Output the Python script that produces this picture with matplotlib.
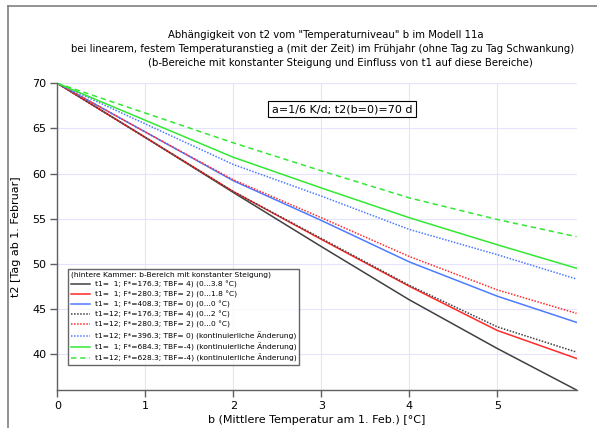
import matplotlib.pyplot as plt

# b (Mittlere Temperatur am 1. Feb.) [°C]
b_vals = [0, 1, 2, 3, 4, 5, 5.9]

# t2 [Tag ab 1. Februar]
t2_k_solid = [70, 64.0, 57.9, 51.9, 46.0, 40.6, 36.0]
t2_r_solid = [70, 64.0, 58.0, 52.7, 47.5, 42.6, 39.5]
t2_b_solid = [70, 64.6, 59.2, 54.8, 50.2, 46.4, 43.5]
t2_k_dot = [70, 64.0, 58.0, 52.8, 47.6, 43.0, 40.2]
t2_r_dot = [70, 64.6, 59.3, 55.1, 50.8, 47.1, 44.5]
t2_b_dot = [70, 65.5, 61.0, 57.5, 53.8, 51.0, 48.3]
t2_g_solid = [70, 65.9, 61.8, 58.4, 55.1, 52.1, 49.5]
t2_g_dash = [70, 66.7, 63.4, 60.3, 57.3, 54.9, 53.0]

labels = [
    "t1=  1; F*=176.3; TBF= 4) (0...3.8 °C)",
    "t1=  1; F*=280.3; TBF= 2) (0...1.8 °C)",
    "t1=  1; F*=408.3; TBF= 0) (0...0 °C)",
    "t1=12; F*=176.3; TBF= 4) (0...2 °C)",
    "t1=12; F*=280.3; TBF= 2) (0...0 °C)",
    "t1=12; F*=396.3; TBF= 0) (kontinuierliche Änderung)",
    "t1=  1; F*=684.3; TBF=-4) (kontinuierliche Änderung)",
    "t1=12; F*=628.3; TBF=-4) (kontinuierliche Änderung)",
]

series = [t2_k_solid, t2_r_solid, t2_b_solid, t2_k_dot, t2_r_dot, t2_b_dot, t2_g_solid, t2_g_dash]
colors = ["#404040", "#ff2a2a", "#4d7bff", "#404040", "#ff2a2a", "#4d7bff", "#33e833", "#33e833"]
styles = ["-", "-", "-", (0, (1, 1)), (0, (1, 1)), (0, (1, 1)), "-", (0, (3.5, 2.5))]

plt.rcParams["font.family"] = "DejaVu Sans"

W, H = 597, 428
fig = plt.figure(figsize=(W / 100, H / 100), dpi=100)
ax = fig.add_axes([57.3 / W, 1 - 390 / H, (576.5 - 57.3) / W, (390 - 83.3) / H])

for y, c, ls, lab in zip(series, colors, styles, labels):
    ax.plot(b_vals, y, color=c, linestyle=ls, linewidth=1.1, label=lab)

ax.set_xlim(0, 5.9)
ax.set_ylim(36.0, 70)
ax.set_xticks([0, 1, 2, 3, 4, 5])
ax.set_yticks([40, 45, 50, 55, 60, 65, 70])
ax.grid(True, color="#e4e4ff", linewidth=0.8)
ax.set_axisbelow(True)
for s in ["top", "right"]:
    ax.spines[s].set_visible(False)
for s in ["left", "bottom"]:
    ax.spines[s].set_color("#606060")
    ax.spines[s].set_linewidth(1.0)
ax.tick_params(direction="out", length=5, width=1, color="#606060", labelsize=8, pad=3)

ax.set_xlabel("b (Mittlere Temperatur am 1. Feb.) [°C]", fontsize=8, labelpad=3)
ax.set_ylabel("t2 [Tag ab 1. Februar]", fontsize=8, labelpad=8)

fig.text(326 / W, 1 - 35 / H, 'Abhängigkeit von t2 vom "Temperaturniveau" b im Modell 11a',
         ha="center", va="center", fontsize=7.3)
fig.text(323 / W, 1 - 49 / H,
         "bei linearem, festem Temperaturanstieg a (mit der Zeit) im Frühjahr (ohne Tag zu Tag Schwankung)",
         ha="center", va="center", fontsize=7.3)
fig.text(340 / W, 1 - 63 / H,
         "(b-Bereiche mit konstanter Steigung und Einfluss von t1 auf diese Bereiche)",
         ha="center", va="center", fontsize=7.3)

fig.text(342 / W, 1 - 109 / H, "a=1/6 K/d; t2(b=0)=70 d", ha="center", va="center", fontsize=8,
         bbox=dict(boxstyle="square,pad=0.3", facecolor="white", edgecolor="black", linewidth=0.8))

leg = ax.legend(loc="upper left", bbox_to_anchor=(68 / W, 1 - 269 / H), bbox_transform=fig.transFigure,
                title="(hintere Kammer: b-Bereich mit konstanter Steigung)", alignment="left",
                fontsize=5.4, title_fontsize=5.4, frameon=True, fancybox=False, borderaxespad=0,
                handlelength=2.6, handletextpad=0.6, labelspacing=0.38, borderpad=0.35)
leg.get_frame().set_edgecolor("#404040")
leg.get_frame().set_linewidth(1.0)

# grauer Rahmen oben und links
fig.add_artist(plt.Line2D([8 / W, 1], [1 - 6 / H, 1 - 6 / H], transform=fig.transFigure,
                          color="#808080", linewidth=1.2))
fig.add_artist(plt.Line2D([8 / W, 8 / W], [0, 1 - 6 / H], transform=fig.transFigure,
                          color="#808080", linewidth=1.2))

fig.savefig("out.png", dpi=100)
